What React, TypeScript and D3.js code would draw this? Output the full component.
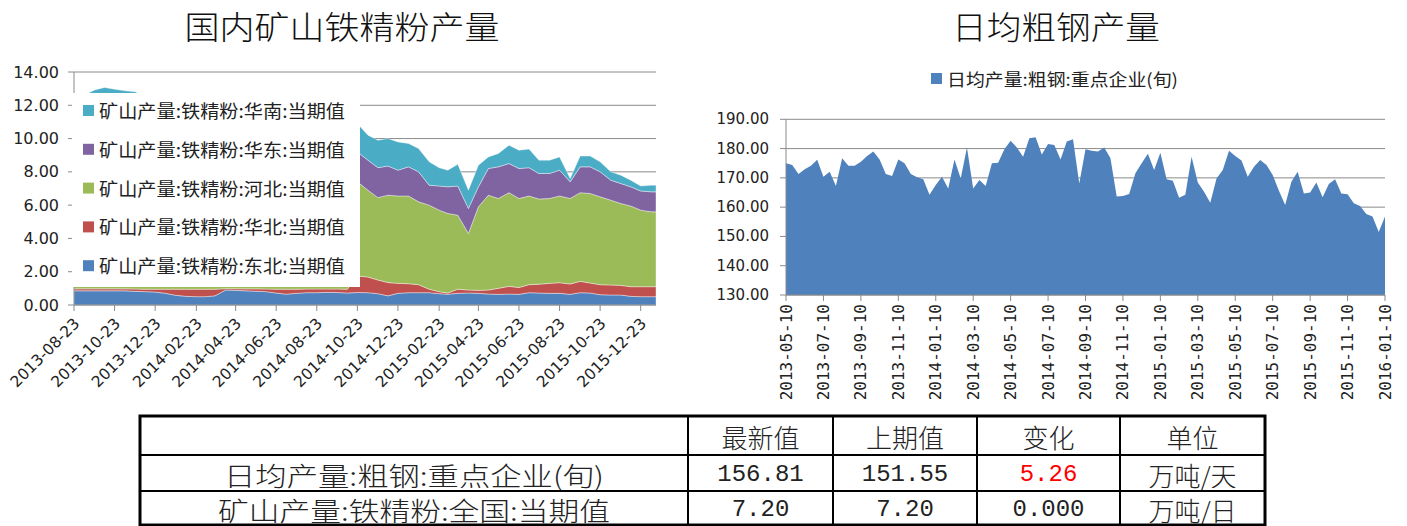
import React from "react";
import * as d3 from "d3";

// ---------------- Left chart data (万吨) ----------------
const leftDates = [
  "2013-08-23","2013-09-08","2013-09-23","2013-10-08","2013-10-23","2013-11-08","2013-11-23","2013-12-08","2013-12-23",
  "2014-01-08","2014-01-23","2014-02-08","2014-02-23","2014-03-08","2014-03-23","2014-04-08","2014-04-23","2014-05-08",
  "2014-05-23","2014-06-08","2014-06-23","2014-07-08","2014-07-23","2014-08-08","2014-08-23","2014-09-08","2014-09-23",
  "2014-10-08","2014-10-23","2014-11-08","2014-11-23","2014-12-08","2014-12-23","2015-01-08","2015-01-23","2015-02-08",
  "2015-02-23","2015-03-08","2015-03-23","2015-04-08","2015-04-23","2015-05-08","2015-05-23","2015-06-08","2015-06-23",
  "2015-07-08","2015-07-23","2015-08-08","2015-08-23","2015-09-08","2015-09-23","2015-10-08","2015-10-23","2015-11-08",
  "2015-11-23","2015-12-08","2015-12-23","2016-01-08","2016-01-15"
];
const dongbei = [
  0.85,0.85,0.85,0.85,0.85,0.85,0.82,0.80,0.78,0.70,0.58,0.52,0.50,0.50,0.55,0.90,0.88,0.85,0.83,0.80,0.72,0.65,0.70,0.74,0.74,0.76,0.75,0.72,
  0.75,0.74,0.68,0.55,0.70,0.74,0.74,0.74,0.68,0.65,0.70,0.72,0.70,0.66,0.64,0.66,0.64,0.74,0.72,0.70,0.70,0.64,0.74,0.72,0.62,0.60,0.60,0.52,0.50,0.50,0.50
];
const huabei = [
  0.12,0.12,0.12,0.12,0.12,0.12,0.14,0.15,0.17,0.25,0.37,0.43,0.45,0.45,0.40,0.08,0.10,0.12,0.14,0.16,0.23,0.30,0.25,0.22,0.22,0.20,0.21,0.23,
  1.00,0.94,0.82,0.80,0.60,0.54,0.48,0.21,0.12,0.07,0.25,0.18,0.18,0.24,0.36,0.46,0.41,0.48,0.53,0.60,0.64,0.62,0.68,0.60,0.60,0.60,0.58,0.58,0.60,0.60,0.60
];
const hebei = [
  8.6,8.8,9.0,9.1,9.0,8.9,8.8,8.6,8.4,8.2,7.8,7.6,7.9,8.2,8.5,8.6,8.6,8.6,8.5,8.4,8.2,8.1,8.1,8.1,7.8,7.6,7.3,7.0,
  5.65,5.22,4.95,5.25,5.25,5.27,4.98,5.05,4.90,4.78,4.45,3.40,5.02,5.70,5.40,5.63,5.35,5.33,5.12,5.10,5.21,5.14,5.33,5.38,5.28,5.10,4.92,4.85,4.60,4.50,4.50
];
const huadong = [
  1.6,1.7,1.7,1.75,1.75,1.75,1.8,1.75,1.7,1.65,1.6,1.55,1.6,1.65,1.7,1.75,1.75,1.75,1.8,1.8,1.85,1.85,1.8,1.8,1.85,1.85,1.85,1.85,
  1.80,1.80,1.80,1.75,1.55,1.75,1.80,1.20,1.45,1.60,1.75,1.50,1.20,1.60,1.90,1.75,1.80,1.70,1.53,1.50,1.55,1.00,1.55,1.60,1.50,1.20,1.20,1.15,1.15,1.20,1.20
];
const huanan = [
  1.1,1.15,1.25,1.25,1.25,1.25,1.25,1.2,1.2,1.15,1.1,1.05,1.1,1.15,1.2,1.2,1.2,1.25,1.25,1.25,1.25,1.2,1.2,1.2,1.2,1.2,1.2,1.2,
  1.70,1.50,1.65,1.65,1.70,1.40,1.40,1.40,1.10,1.00,1.30,1.10,1.30,0.70,0.80,1.10,1.10,1.12,0.80,0.80,0.80,0.20,0.65,0.65,0.60,0.50,0.50,0.40,0.30,0.40,0.40
];
const leftKeys = ["东北", "华北", "河北", "华东", "华南"];
const leftSeries: Record<string, number[]> = { 东北: dongbei, 华北: huabei, 河北: hebei, 华东: huadong, 华南: huanan };
const leftColors: Record<string, string> = {
  东北: "#4F81BD", 华北: "#C0504D", 河北: "#9BBB59", 华东: "#8064A2", 华南: "#4BACC6",
};
const leftLegendOrder = ["华南", "华东", "河北", "华北", "东北"];
const leftTicks = [
  "2013-08-23","2013-10-23","2013-12-23","2014-02-23","2014-04-23","2014-06-23","2014-08-23","2014-10-23",
  "2014-12-23","2015-02-23","2015-04-23","2015-06-23","2015-08-23","2015-10-23","2015-12-23"
];
const leftYTicks = [0, 2, 4, 6, 8, 10, 12, 14];

// ---------------- Right chart data (万吨/天) ----------------
const rightValues = [
  175.0,174.4,171.3,172.9,174.1,176.2,170.4,172.1,167.2,176.7,174.1,174.1,175.5,177.5,179.0,176.3,171.3,170.6,
  176.3,175.0,171.3,170.2,169.5,164.2,167.6,170.4,166.4,176.3,169.8,180.4,166.4,169.3,167.2,175.0,175.2,179.8,
  182.7,180.4,177.2,183.5,183.9,178.0,181.6,181.2,176.3,182.4,183.2,168.1,179.8,179.3,179.0,180.4,176.7,163.6,
  163.8,164.5,171.6,175.0,178.2,172.7,178.6,169.5,169.0,163.2,164.2,177.2,168.4,165.3,161.5,169.8,172.7,179.3,
  177.5,175.9,170.4,173.8,176.1,174.4,171.0,165.6,160.7,168.7,172.1,164.7,165.0,168.4,163.4,167.9,169.5,164.7,
  164.4,161.3,160.4,157.7,156.8,151.55,156.81
];
const rightTicks = [
  "2013-05-10","2013-07-10","2013-09-10","2013-11-10","2014-01-10","2014-03-10","2014-05-10","2014-07-10","2014-09-10",
  "2014-11-10","2015-01-10","2015-03-10","2015-05-10","2015-07-10","2015-09-10","2015-11-10","2016-01-10"
];
const rightYTicks = [130, 140, 150, 160, 170, 180, 190];

// 旬 categories: 10th, 20th and month end from 2013-05 to 2016-01-10
const rightDates: string[] = [];
{
  let y = 2013, m = 5;
  while (rightDates.length < rightValues.length) {
    const mm = String(m).padStart(2, "0");
    const last = new Date(y, m, 0).getDate();
    for (const d of [10, 20, last]) {
      if (rightDates.length < rightValues.length) rightDates.push(`${y}-${mm}-${String(d).padStart(2, "0")}`);
    }
    m++;
    if (m > 12) { m = 1; y++; }
  }
}

// ---------------- Table ----------------
const tableHeader = ["", "最新值", "上期值", "变化", "单位"];
const tableRows = [
  ["日均产量:粗钢:重点企业(旬)", "156.81", "151.55", "5.26", "万吨/天"],
  ["矿山产量:铁精粉:全国:当期值", "7.20", "7.20", "0.000", "万吨/日"],
];

const CJK = "'Noto Sans CJK SC', 'Noto Sans', sans-serif";
const NUM = "'DejaVu Sans', sans-serif";
const GRID = "#8a8a8a";

export default function App() {
  const parse = d3.timeParse("%Y-%m-%d");
  const lDates = leftDates.map((d) => parse(d) as Date);

  // Left chart scales
  const xL = d3.scaleTime().domain(d3.extent(lDates) as [Date, Date]).range([74, 656]);
  const yL = d3.scaleLinear().domain([0, 14]).range([305, 72]);
  const rows = lDates.map((date, i) => {
    const r: any = { date };
    leftKeys.forEach((k) => (r[k] = leftSeries[k][i]));
    return r;
  });
  const stacked = d3.stack<any>().keys(leftKeys)(rows);
  const areaL = d3
    .area<any>()
    .x((d) => xL(d.data.date))
    .y0((d) => yL(d[0]))
    .y1((d) => yL(d[1]));

  // Right chart scales
  const xR = d3.scalePoint<string>().domain(rightDates).range([786, 1385]);
  const yR = d3.scaleLinear().domain([130, 190]).range([295, 119.3]);
  const areaR = d3
    .area<number>()
    .x((_, i) => xR(rightDates[i]) as number)
    .y0(yR(130))
    .y1((d) => yR(d));

  const colX = [140, 688, 833, 977, 1120, 1265];
  const rowY = [416, 455, 491, 525];

  return (
    <div style={{ position: "absolute", left: 0, top: 0, background: "#fff" }}>
      <svg width={1407} height={526} style={{ display: "block", background: "#fff" }}>
        {/* Titles */}
        <text x={342} y={25} fontFamily={CJK} fontSize={32} fontWeight={300} textAnchor="middle" dominantBaseline="central"
          textLength={315} lengthAdjust="spacingAndGlyphs" fill="#111">国内矿山铁精粉产量</text>
        <text x={1056} y={25} fontFamily={CJK} fontSize={32} fontWeight={300} textAnchor="middle" dominantBaseline="central"
          textLength={208} lengthAdjust="spacingAndGlyphs" fill="#111">日均粗钢产量</text>

        {/* ---------- Left chart ---------- */}
        <g>
          {leftYTicks.map((t) => (
            <g key={t}>
              <line x1={74} x2={656} y1={yL(t)} y2={yL(t)} stroke={GRID} strokeWidth={1} />
              <line x1={68} x2={74} y1={yL(t)} y2={yL(t)} stroke={GRID} strokeWidth={1} />
              <text x={59} y={yL(t)} fontFamily={NUM} fontSize={16} textAnchor="end" dominantBaseline="central" fill="#222">
                {t.toFixed(2)}
              </text>
            </g>
          ))}
          {stacked.map((s) => (
            <path key={s.key} d={areaL(s) as string} fill={leftColors[s.key]} stroke="#ffffff" strokeOpacity={0.55} strokeWidth={0.7} />
          ))}
          <line x1={74} x2={74} y1={72} y2={305} stroke={GRID} />
          <line x1={74} x2={656} y1={305} y2={305} stroke={GRID} />
          {leftTicks.map((t) => {
            const x = xL(parse(t) as Date);
            return (
              <g key={t}>
                <line x1={x} x2={x} y1={305} y2={311} stroke={GRID} />
                <text transform={`translate(${x + 3},${321}) rotate(-45)`} fontFamily={NUM} fontSize={15.5}
                  textAnchor="end" dominantBaseline="central" fill="#222">{t}</text>
              </g>
            );
          })}
          {/* Legend box */}
          <rect x={72} y={93} width={288} height={194} fill="#fff" />
          {leftLegendOrder.map((k, i) => {
            const cy = 110 + i * 38.8;
            return (
              <g key={k}>
                <rect x={83} y={cy - 5} width={11} height={11} fill={leftColors[k]} />
                <text x={99} y={cy} fontFamily={CJK} fontSize={18} dominantBaseline="central" fill="#222"
                  textLength={246} lengthAdjust="spacingAndGlyphs">{`矿山产量:铁精粉:${k}:当期值`}</text>
              </g>
            );
          })}
        </g>

        {/* ---------- Right chart ---------- */}
        <g>
          <rect x={931} y={73} width={11} height={11} fill="#4F81BD" />
          <text x={947} y={78.5} fontFamily={CJK} fontSize={17} dominantBaseline="central" fill="#222"
            textLength={231} lengthAdjust="spacingAndGlyphs">日均产量:粗钢:重点企业(旬)</text>
          {rightYTicks.map((t) => (
            <g key={t}>
              <line x1={786} x2={1385} y1={yR(t)} y2={yR(t)} stroke={GRID} strokeWidth={1} />
              <line x1={780} x2={786} y1={yR(t)} y2={yR(t)} stroke={GRID} strokeWidth={1} />
              <text x={769} y={yR(t)} fontFamily={NUM} fontSize={15} textAnchor="end" dominantBaseline="central" fill="#222">
                {t.toFixed(2)}
              </text>
            </g>
          ))}
          <path d={areaR(rightValues) as string} fill="#4F81BD" />
          <line x1={786} x2={786} y1={yR(190)} y2={yR(130)} stroke={GRID} />
          <line x1={786} x2={1385} y1={yR(130)} y2={yR(130)} stroke={GRID} />
          {rightTicks.map((t) => {
            const x = xR(t) as number;
            return (
              <g key={t}>
                <line x1={x} x2={x} y1={295} y2={301} stroke={GRID} />
                <text transform={`translate(${x},${304}) rotate(-90)`} fontFamily="'DejaVu Sans Mono', monospace" fontSize={16}
                  textAnchor="end" dominantBaseline="central" fill="#222">{t}</text>
              </g>
            );
          })}
        </g>

        {/* ---------- Table ---------- */}
        <g>
          {[tableHeader, ...tableRows].map((row, r) =>
            row.map((cell, c) => {
              if (!cell) return null;
              const cx = (colX[c] + colX[c + 1]) / 2;
              const cy = (rowY[r] + rowY[r + 1]) / 2;
              const isNum = /^[0-9.]+$/.test(cell);
              const red = r === 1 && c === 3;
              return (
                <text key={`${r}-${c}`} x={cx} y={cy + 1} textAnchor="middle" dominantBaseline="central"
                  fontFamily={isNum ? "'Liberation Mono', monospace" : CJK} fontSize={isNum ? 24 : 26}
                  fontWeight={isNum ? 400 : 300}
                  fill={red ? "#ff0000" : "#222"}
                  {...(c === 0 ? { textLength: r === 1 ? 380 : 392, lengthAdjust: "spacingAndGlyphs" } : {})}>
                  {cell}
                </text>
              );
            })
          )}
          {rowY.slice(1, 3).map((y) => (
            <line key={y} x1={colX[0]} x2={colX[5]} y1={y} y2={y} stroke="#000" strokeWidth={2} />
          ))}
          {colX.slice(1, 5).map((x) => (
            <line key={x} x1={x} x2={x} y1={rowY[0]} y2={rowY[3]} stroke="#000" strokeWidth={2} />
          ))}
          <rect x={colX[0]} y={rowY[0]} width={colX[5] - colX[0]} height={rowY[3] - rowY[0]} fill="none" stroke="#000" strokeWidth={3} />
        </g>
      </svg>
    </div>
  );
}
